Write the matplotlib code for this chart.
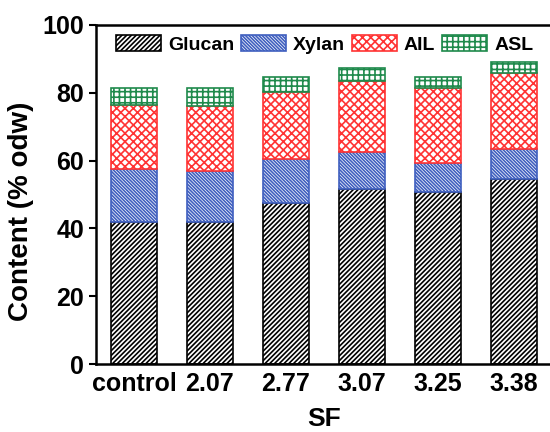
import numpy as np
import matplotlib
matplotlib.use("Agg")
import matplotlib.pyplot as plt

# ========================================================= #
# ===  data                                             === #
# ========================================================= #
categories = ["control", "2.07", "2.77", "3.07", "3.25", "3.38"]
glucan     = [42.0, 42.0, 47.5, 51.5, 50.6, 54.6]
xylan      = [15.5, 15.0, 12.9, 10.9,  8.8,  8.9]
ail        = [18.8, 19.2, 19.9, 21.1, 21.9, 22.4]
asl        = [ 5.0,  5.1,  4.4,  3.9,  3.3,  3.1]

series_names = ["Glucan", "Xylan", "AIL", "ASL"]

# ========================================================= #
# ===  styles                                           === #
# ========================================================= #
plt.rcParams["font.family"]     = ["Liberation Sans", "DejaVu Sans"]
plt.rcParams["font.weight"]     = "bold"
plt.rcParams["hatch.linewidth"] = 1.2

styles = [ dict( edgecolor="#000000", hatch="/"  * 7 ),
           dict( edgecolor="#3f5fbf", hatch="\\" * 10 ),
           dict( edgecolor="#ff3333", hatch="xxxx" ),
           dict( edgecolor="#1f8a4c", hatch="+++" ) ]

# ========================================================= #
# ===  plot                                             === #
# ========================================================= #
fig = plt.figure( figsize=(5.5, 4.32), dpi=100 )
ax  = fig.add_axes( [ 96/550, 68/432, 456/550, 339/432 ] )

x      = np.arange( len(categories) )
bottom = np.zeros( len(categories) )
for name, vals, st in zip( series_names, [glucan, xylan, ail, asl], styles ):
    ax.bar( x, vals, width=0.6, bottom=bottom, color="white",
            linewidth=1.2, label=name, **st )
    bottom += np.array( vals )

ax.set_xlim( -0.5, 5.5 )
ax.set_ylim( 0, 100 )
ax.set_yticks( [0, 20, 40, 60, 80, 100] )
ax.set_xticks( x )
ax.set_xticklabels( categories )
ax.tick_params( axis="x", length=0, labelsize=18, pad=6 )
ax.tick_params( axis="y", direction="out", length=5, width=1.5, labelsize=18 )
for sp in ax.spines.values():
    sp.set_linewidth( 1.8 )

ax.set_xlabel( "SF", fontsize=19, fontweight="bold", labelpad=8 )
ax.set_ylabel( "Content (% odw)", fontsize=20, fontweight="bold" )
ax.yaxis.set_label_coords( -0.135, 0.45 )

ax.legend( loc="upper left", bbox_to_anchor=(0.015, 1.01), ncol=4, frameon=False,
           fontsize=14, handlelength=2.3, handleheight=0.9,
           handletextpad=0.36, columnspacing=0.36, borderaxespad=0.3 )

fig.savefig( "out.png", dpi=100 )
